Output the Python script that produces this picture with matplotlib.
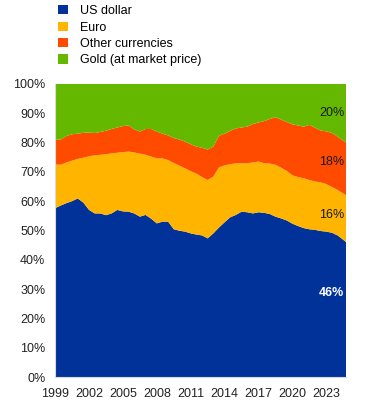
import matplotlib.pyplot as plt
from matplotlib.patches import Patch

plt.rcParams['font.family'] = ['Liberation Sans', 'DejaVu Sans']
plt.rcParams['font.size'] = 9

# half-yearly observations, shares of global official reserves (%)
years = [1999.0, 1999.5, 2000.0, 2000.5, 2001.0, 2001.5, 2002.0, 2002.5, 2003.0, 2003.5,
         2004.0, 2004.5, 2005.0, 2005.5, 2006.0, 2006.5, 2007.0, 2007.5, 2008.0, 2008.5,
         2009.0, 2009.5, 2010.0, 2010.5, 2011.0, 2011.5, 2012.0, 2012.5, 2013.0, 2013.5,
         2014.0, 2014.5, 2015.0, 2015.5, 2016.0, 2016.5, 2017.0, 2017.5, 2018.0, 2018.5,
         2019.0, 2019.5, 2020.0, 2020.5, 2021.0, 2021.5, 2022.0, 2022.5, 2023.0, 2023.5,
         2024.0, 2024.5, 2024.75]

us_dollar = [57.6, 58.5, 59.3, 60.0, 60.9, 59.5, 57.0, 55.8, 55.8, 55.2,
             55.8, 57.0, 56.5, 56.4, 55.8, 54.7, 55.3, 54.0, 52.4, 53.0,
             53.0, 50.4, 49.9, 49.6, 49.0, 48.6, 48.3, 47.3, 49.0, 51.0,
             52.8, 54.5, 55.3, 56.4, 56.2, 55.8, 56.2, 56.0, 55.6, 54.7,
             54.1, 53.4, 52.3, 51.5, 50.8, 50.4, 50.2, 49.8, 49.6, 49.2,
             48.3, 46.8, 46.0]

euro = [14.9, 13.9, 13.9, 13.8, 13.5, 15.3, 18.3, 19.8, 20.0, 20.8,
        20.5, 19.5, 20.2, 20.5, 20.8, 21.5, 20.5, 21.2, 22.2, 21.6,
        21.0, 22.6, 22.2, 21.6, 21.2, 20.8, 19.9, 19.9, 19.4, 20.5,
        19.4, 18.1, 17.6, 16.5, 16.7, 17.4, 17.3, 16.9, 17.2, 17.7,
        17.3, 16.9, 16.5, 16.7, 17.0, 16.8, 16.5, 16.6, 16.2, 15.6,
        15.5, 15.8, 16.0]

other = [8.4, 8.6, 9.0, 9.0, 8.6, 8.5, 8.1, 7.6, 7.8, 8.0,
         8.3, 8.6, 8.9, 8.9, 7.9, 7.5, 8.8, 9.4, 9.1, 8.4,
         8.4, 8.5, 8.9, 9.1, 9.2, 9.2, 10.0, 10.4, 10.2, 10.8,
         10.8, 11.4, 11.9, 12.2, 12.5, 13.1, 13.3, 14.4, 15.2, 16.2,
         16.4, 16.7, 17.4, 17.6, 17.6, 18.8, 18.3, 17.7, 18.0, 18.4,
         18.2, 18.0, 18.0]

gold = [19.1, 19.0, 17.8, 17.2, 17.0, 16.7, 16.6, 16.8, 16.4, 16.0,
        15.4, 14.9, 14.4, 14.2, 15.5, 16.3, 15.4, 15.4, 16.3, 17.0,
        17.6, 18.5, 19.0, 19.7, 20.6, 21.4, 21.8, 22.4, 21.4, 17.7,
        17.0, 16.0, 15.2, 14.9, 14.6, 13.7, 13.2, 12.7, 12.0, 11.4,
        12.2, 13.0, 13.8, 14.2, 14.6, 14.0, 15.0, 15.9, 16.2, 16.8,
        18.0, 19.4, 20.0]

labels = ['US dollar', 'Euro', 'Other currencies', 'Gold (at market price)']
colors = ['#003299', '#FFB400', '#FF4B00', '#65B800']
end_labels = ['46%', '16%', '18%', '20%']
xticks = [1999, 2002, 2005, 2008, 2011, 2014, 2017, 2020, 2023]

fig = plt.figure(figsize=(3.75, 4.05), dpi=100)
ax = fig.add_axes([0.147, 0.069, 0.776, 0.724])

ax.stackplot(years, us_dollar, euro, other, gold, colors=colors, linewidth=0)

ax.set_xlim(1999, 2024.75)
ax.set_ylim(0, 100)
ax.set_xticks(xticks)
ax.set_yticks(range(0, 101, 10))
ax.set_yticklabels([str(v) + '%' for v in range(0, 101, 10)])
ax.tick_params(length=0, labelsize=9, colors='#222222')
ax.tick_params(axis='y', pad=7)
ax.tick_params(axis='x', pad=8)
for s in ['top', 'right']:
    ax.spines[s].set_visible(False)
for s in ['left', 'bottom']:
    ax.spines[s].set_color('#d9d9d9')
    ax.spines[s].set_linewidth(0.8)

# end-of-period labels
ax.text(2024.6, 28.7, end_labels[0], ha='right', va='center', color='white',
        fontweight='bold', fontsize=9)
ax.text(2024.6, 55.3, end_labels[1], ha='right', va='center', color='#1a1a1a', fontsize=9)
ax.text(2024.6, 73.4, end_labels[2], ha='right', va='center', color='#1a1a1a', fontsize=9)
ax.text(2024.6, 90.1, end_labels[3], ha='right', va='center', color='#1a1a1a', fontsize=9)

handles = [Patch(facecolor=c, edgecolor='none') for c in colors]
fig.legend(handles, labels, loc='upper left', bbox_to_anchor=(0.125, 1.015),
           frameon=False, handlelength=0.75, handleheight=0.75, handletextpad=1.0,
           labelspacing=0.35, fontsize=9)

plt.savefig('out.png', dpi=100)
